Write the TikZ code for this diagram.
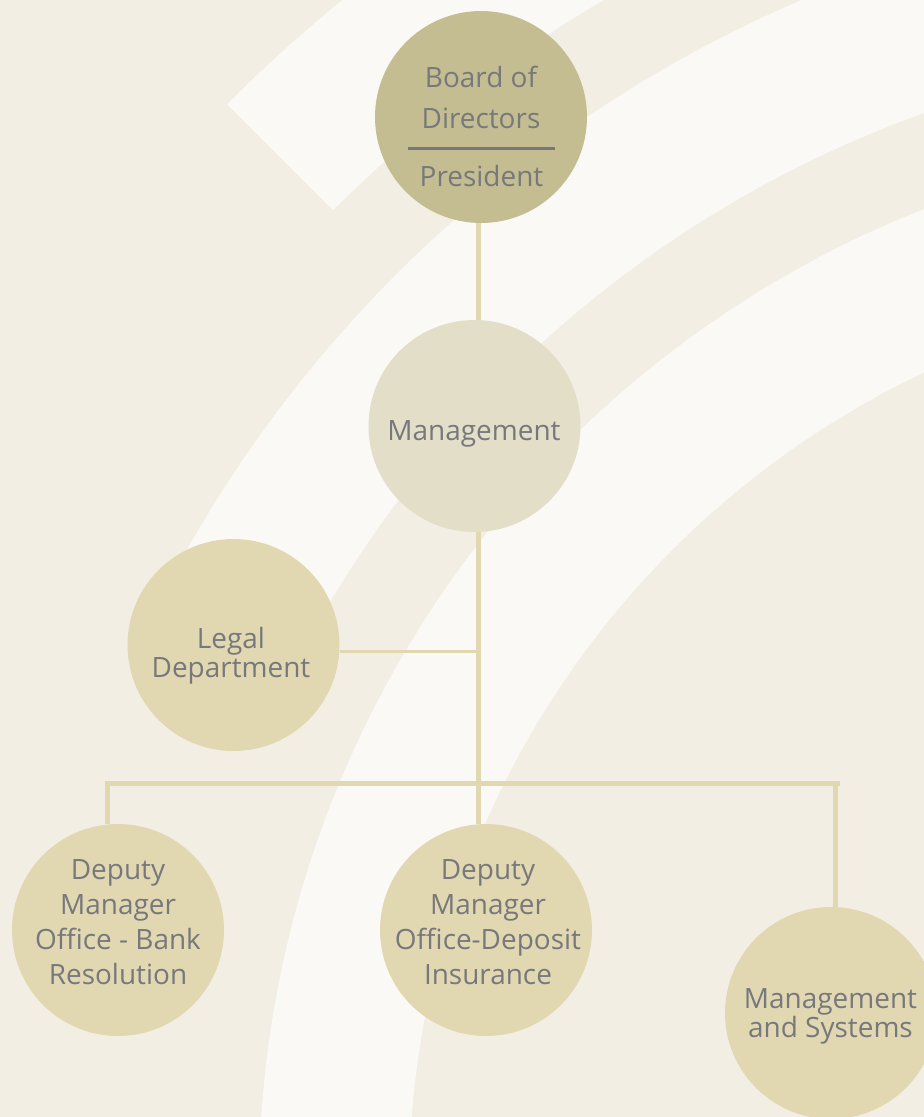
\documentclass[tikz,border=0pt]{standalone}
\usepackage{fontspec}
\setmainfont{Open Sans}
\usetikzlibrary{calc}

\definecolor{paper}{HTML}{F2EEE3}
\definecolor{band}{HTML}{FAF9F5}
\definecolor{boardfill}{HTML}{C4BD91}
\definecolor{mgmtfill}{HTML}{E2DEC8}
\definecolor{unitfill}{HTML}{E1D8B2}
\definecolor{linkcol}{HTML}{E1D8B2}
\definecolor{ink}{HTML}{77787B}

\begin{document}
\begin{tikzpicture}[x=0.02cm, y=0.02cm,
  disc/.style={circle, inner sep=0pt, minimum size=4.24cm, draw=none},
  % base anchor of a multi-line label sits on its last line
  orgtext/.style={text=ink, align=center, inner sep=0pt, anchor=base,
    font=\fontsize{15.9pt}{#1}\selectfont},
  orgtext/.default=16.5pt,
  link/.style={draw=linkcol, line width=0.1cm},
  thinlink/.style={draw=linkcol, line width=0.06cm}]

% page and background bands (concentric arcs)
\useasboundingbox (0,0) rectangle (924,-1117);
\fill[paper] (0,0) rectangle (924,-1117);
\begin{scope}
  \clip (0,0) rectangle (924,-1117);
  \coordinate (hub) at (1309,-1186);
  \fill[band] ($(hub)+(105:1380)$) arc[start angle=105, end angle=135, radius=1380]
    -- ($(hub)+(135:1530)$) arc[start angle=135, end angle=105, radius=1530] -- cycle;
  \fill[band] ($(hub)+(90:1140)$) arc[start angle=90, end angle=153.3, radius=1140]
    -- ($(hub)+(153.3:1290)$) arc[start angle=153.3, end angle=90, radius=1290] -- cycle;
  \fill[band] ($(hub)+(80:900)$) arc[start angle=80, end angle=190, radius=900]
    -- ($(hub)+(190:1050)$) arc[start angle=190, end angle=80, radius=1050] -- cycle;
\end{scope}

% connector points
\coordinate (trunk) at (478,0);
\coordinate (legaljoin) at (478,-651);
\coordinate (busL) at (105,-783);
\coordinate (busR) at (840,-783);
\coordinate (dropL) at (107.5,-783);
\coordinate (dropR) at (835.5,-783);

% units
\node[disc, fill=boardfill] (board) at (481,-117) {};
\node[disc, fill=mgmtfill] (mgmt) at (474.5,-426) {};
\node[disc, fill=unitfill] (legal) at (233.5,-645) {};
\node[disc, fill=unitfill] (bank) at (118,-930) {};
\node[disc, fill=unitfill] (deposit) at (486,-930) {};
\node[disc, fill=unitfill] (systems) at (831,-1013) {};

\draw[link] (trunk |- board.south) -- (trunk |- mgmt.north);
\draw[link] (trunk |- mgmt.south) -- (trunk |- deposit.north);
\draw[thinlink] (legaljoin) -- (legaljoin -| legal.east);
\draw[link] (busL) -- (busR);
\draw[link] (dropL) -- (dropL |- bank.north);
\draw[link] (dropR) -- (dropR |- systems.north);

% labels
\node[orgtext=22.8pt] (board-t) at (481,-128) {Board of\\Directors};
\draw[draw=ink, line width=0.06cm] ($(board)+(-73,-31)$) -- ($(board)+(74,-31)$);
\node[orgtext] (board-p) at (481.5,-186) {President};
\node[orgtext] (mgmt-t) at (474,-440) {Management};
\node[orgtext=16.5pt] (legal-t) at (231,-677) {Legal\\Department};
\node[orgtext=19.75pt] (bank-t) at (118,-984) {Deputy\\Manager\\Office - Bank\\Resolution};
\node[orgtext=19.75pt] (deposit-t) at (488,-984) {Deputy\\Manager\\Office-Deposit\\Insurance};
\node[orgtext=16.5pt] (systems-t) at (830.5,-1037) {Management\\and Systems};
\end{tikzpicture}
\end{document}
